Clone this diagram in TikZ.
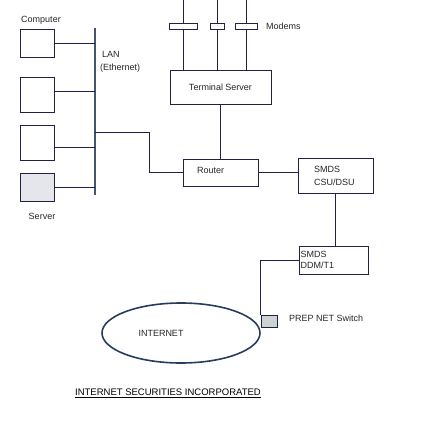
\documentclass[tikz,border=0pt]{standalone}
\usepackage{fontspec}
\setmainfont{Liberation Sans}
\usetikzlibrary{shapes.geometric}
\definecolor{wirecol}{RGB}{35,32,70}
\definecolor{busblue}{RGB}{70,85,110}
\definecolor{netblue}{RGB}{40,60,95}
\definecolor{srvgray}{RGB}{228,230,236}
\definecolor{swgray}{RGB}{205,210,210}
\newcommand\lblfont{\fontsize{9}{13}\selectfont}
\tikzset{
  wire/.style={draw=wirecol, line width=0.7pt},
  box/.style={draw=wirecol, line width=0.7pt, fill=white, inner sep=0pt, rectangle},
  lbl/.style={font=\lblfont, text=black!85, inner sep=0pt}
}

\begin{document}
\begin{tikzpicture}[x=1pt,y=1pt]
\path[use as bounding box] (0,0) rectangle (427,-431);
% LAN bus and computers
\coordinate (bustop) at (95,-28);
\coordinate (busbot) at (95,-195);
\draw[busblue, line width=2pt] (bustop) -- (busbot);
\node[lbl] (comptxt) at (41,-20) {Computer};
\node[box, minimum width=34pt, minimum height=28pt] (c1) at (37,-43) {};
\node[box, minimum width=34pt, minimum height=35pt] (c2) at (37,-94.5) {};
\node[box, minimum width=34pt, minimum height=35pt] (c3) at (37,-142.5) {};
\node[box, fill=srvgray, minimum width=34pt, minimum height=28pt] (srv) at (37,-187) {};
% taps onto the bus
\foreach \n/\dy in {c1/0, c2/3.5, c3/-4.5, srv/0} {
    \draw[wire] ([yshift=\dy pt]\n.east) -- ([yshift=\dy pt]\n.east -| bustop);
}
\node[lbl] (srvtxt) at (42,-216) {Server};
\node[lbl, anchor=west] (lantxt) at (102,-54) {LAN};
\node[lbl, anchor=west] (ethtxt) at (100,-68) {(Ethernet)};
% Terminal server and modems
\node[box, lbl, minimum width=101pt, minimum height=34pt] (ts) at (220.5,-87) {Terminal Server};
\foreach \x/\w [count=\i] in {183/28, 217/14, 246/22} {
    \coordinate (top\i) at (\x,0);
    \draw[wire] (top\i) -- (top\i |- ts.north);
    \node[box, minimum width=\w pt, minimum height=6pt] (m\i) at (\x,-26) {};
}
\node[lbl, anchor=west] (modtxt) at (266,-26) {Modems};
% Router and SMDS line
\node[box, minimum width=75pt, minimum height=27pt] (router) at (220.5,-172.5) {};
\node[lbl, anchor=west] (routtxt) at (197,-170) {Router};
\coordinate (tap) at (95,-132);
\coordinate (bend) at (149,-132);
\draw[wire] (tap) -- (bend) |- (router.west);
\draw[wire] (ts.south) -- (ts.south |- router.north);
\node[box, minimum width=75pt, minimum height=35pt] (csu) at (335.5,-175.5) {};
\node[lbl, anchor=west, align=left] (csutxt) at (314,-175.5) {SMDS\\CSU/DSU};
\draw[wire] (router.east) -- (router.east -| csu.west);
\node[box, minimum width=69pt, minimum height=28pt] (ddm) at (333.5,-260) {};
\node[lbl, anchor=west, align=left] (ddmtxt) at (300.5,-260) {SMDS\\[-2pt]DDM/T1};
\draw[wire] (csu.south) -- (csu.south |- ddm.north);
% Internet
\node[ellipse, draw=netblue, line width=1.6pt, minimum width=158pt, minimum height=60pt, inner sep=0pt] (net) at (181,-333) {};
\node[lbl] (nettxt) at (161,-333) {INTERNET};
\node[draw=wirecol, fill=swgray, line width=0.5pt, minimum width=16pt, minimum height=12pt, inner sep=0pt] (sw) at (269,-321) {};
\draw[wire] (ddm.west) -| (sw.north west);
\node[lbl, anchor=west] (swtxt) at (289,-318.5) {PREP NET Switch};
% Title
\node[font=\fontsize{9.5}{12}\selectfont, inner sep=0pt] (title) at (168,-393) {\underline{INTERNET SECURITIES INCORPORATED}};
\end{tikzpicture}
\end{document}
